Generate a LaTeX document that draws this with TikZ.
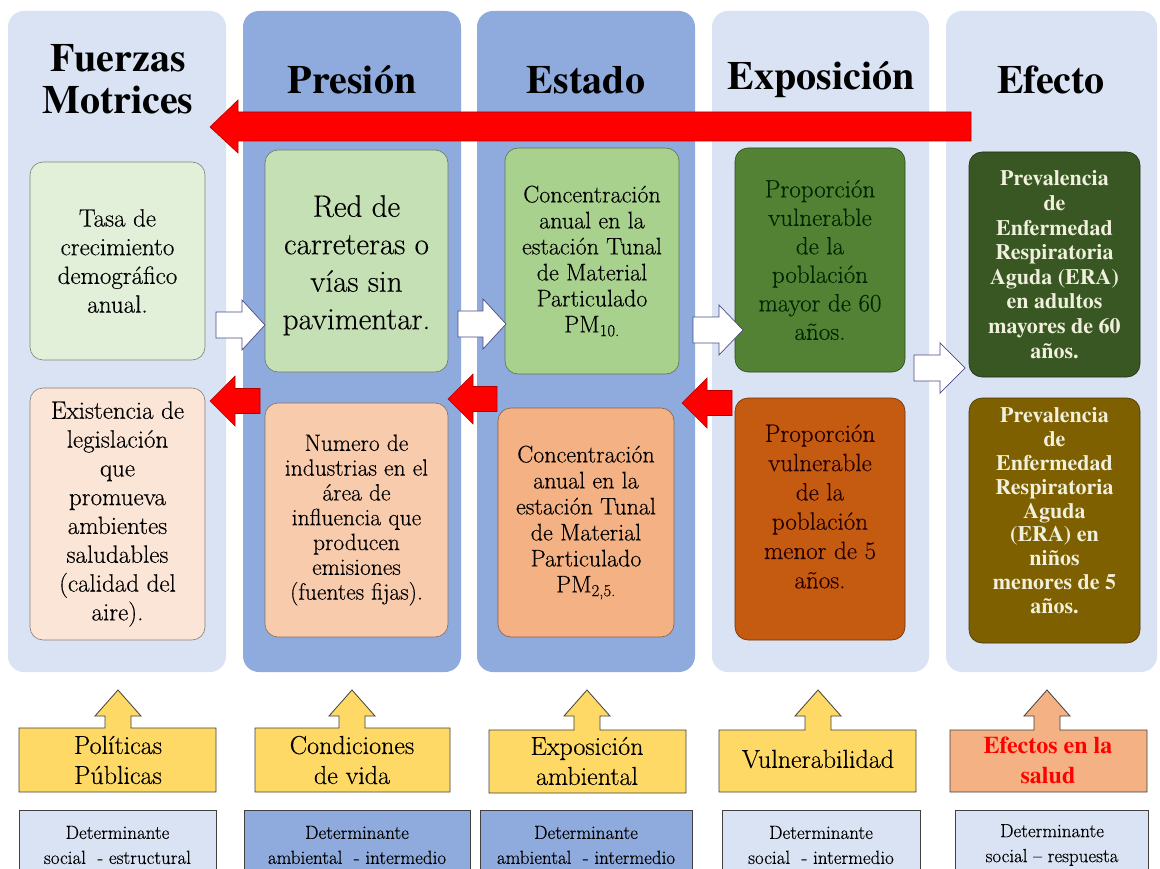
\documentclass[tikz,border=0pt]{standalone}
\usepackage{fontspec}
\setmainfont{Latin Modern Roman}[FakeBold=0.35]
\newfontfamily\tb{texgyretermes-bold.otf}
\definecolor{lightp}{HTML}{DAE3F3}
\definecolor{darkp}{HTML}{8FAADC}
\definecolor{gA}{HTML}{E2F0D9}
\definecolor{oA}{HTML}{FBE5D6}
\definecolor{gB}{HTML}{C5E0B4}
\definecolor{oB}{HTML}{F8CBAD}
\definecolor{gC}{HTML}{A9D18E}
\definecolor{oC}{HTML}{F4B183}
\definecolor{gD}{HTML}{548235}
\definecolor{oD}{HTML}{C55A11}
\definecolor{gE}{HTML}{385723}
\definecolor{oE}{HTML}{7F6000}
\definecolor{yel}{HTML}{FFD966}
\definecolor{sal}{HTML}{F4B183}
\definecolor{cream}{HTML}{F0F0DC}
\definecolor{redA}{HTML}{FF0000}
\newcommand\rightblk[5]{% tail x, tip x, center y, head base x, name
  \draw[warrow] (#1,{#3-13}) -- (#4,{#3-13}) -- (#4,{#3-25}) -- (#2,#3) -- (#4,{#3+25}) -- (#4,{#3+13}) -- (#1,{#3+13}) -- cycle;
  \coordinate (#5) at (#2,#3);}
\newcommand\leftblk[5]{% tail x, tip x, center y, head base x, name
  \draw[rarrow] (#1,{#3-12.5}) -- (#4,{#3-12.5}) -- (#4,{#3-25}) -- (#2,#3) -- (#4,{#3+25}) -- (#4,{#3+12.5}) -- (#1,{#3+12.5}) -- cycle;
  \coordinate (#5) at (#2,#3);}
\newcommand\calloutbox[6]{% x1,x2,y1,y2,cx,style
  \draw[#6] (#1,#3) -- ({#5-13},#3) -- ({#5-13},716) -- ({#5-23},716) -- (#5,690) -- ({#5+23},716) -- ({#5+13},716) -- ({#5+13},#3) -- (#2,#3) -- (#2,#4) -- (#1,#4) -- cycle;}
\begin{document}
\begin{tikzpicture}[x=1pt,y=-1pt,
  panel/.style={rounded corners=16pt, draw=none, inner sep=0pt},
  ibox/.style={rounded corners=13pt, fill=#1, draw=#1!55!black, line width=0.6pt, align=center, inner sep=0pt},
  title/.style={font=\tb\fontsize{40}{42}\selectfont, align=center},
  warrow/.style={fill=white, draw=black!45!blue!40!gray, line width=0.7pt, line join=miter},
  rarrow/.style={fill=redA, draw=redA!70!black, line width=0.6pt, line join=miter},
  call/.style={fill=#1, draw=black!75, line width=0.8pt},
  calltext/.style={font=\fontsize{26}{30}\selectfont, align=center},
  detbox/.style={fill=#1, draw=black!75, line width=0.8pt, align=center, font=\fontsize{19}{25}\selectfont, inner sep=0pt}
]
\useasboundingbox (0,0) rectangle (1160,869);
\fill[white] (0,0) rectangle (1160,869);

% panels
\node[panel, fill=lightp, minimum width=218pt, minimum height=661pt] (p1) at (117,341.5) {};
\node[panel, fill=darkp, minimum width=218pt, minimum height=661pt] (p2) at (352,341.5) {};
\node[panel, fill=darkp, minimum width=218pt, minimum height=661pt] (p3) at (586,341.5) {};
\node[panel, fill=lightp, minimum width=217pt, minimum height=661pt] (p4) at (820.5,341.5) {};
\node[panel, fill=lightp, minimum width=211pt, minimum height=661pt] (p5) at (1051.5,341.5) {};

% titles
\node[title] (t1) at (118,79) {Fuerzas\\Motrices};
\node[title] (t2) at (352,80) {Presión};
\node[title] (t3) at (586,80) {Estado};
\node[title] (t4) at (821,80) {Exposición};
\node[title] (t5) at (1051,80) {Efecto};

% big red arrow
\draw[rarrow] (971,112) -- (238,112) -- (238,100) -- (210,127) -- (238,153) -- (238,141) -- (971,141) -- cycle;
\coordinate (bigtip) at (210,127);

% column 1
\node[ibox=gA, minimum width=175pt, minimum height=198pt, font=\fontsize{25}{28.7}\selectfont] (a1) at (117.5,261) {Tasa de\\crecimiento\\demográfico\\anual.};
\node[ibox=oA, minimum width=175pt, minimum height=252pt, font=\fontsize{25}{28.8}\selectfont] (a2) at (117.5,514) {Existencia de\\legislación\\que\\promueva\\ambientes\\saludables\\(calidad del\\aire).};
% column 2
\node[ibox=gB, minimum width=183pt, minimum height=222pt, font=\fontsize{31}{37.5}\selectfont] (b1) at (356.5,261) {\rule{0pt}{30pt}Red de\\carreteras o\\vías sin\\pavimentar.};
\node[ibox=oB, minimum width=183pt, minimum height=234pt, font=\fontsize{23.5}{24.8}\selectfont] (b2) at (356.5,520) {Numero de\\industrias en el\\área de\\influencia que\\producen\\emisiones\\(fuentes fijas).};
% column 3
\node[ibox=gC, minimum width=174pt, minimum height=226pt, font=\fontsize{24}{26}\selectfont] (c1) at (592,261) {Concentración\\anual en la\\estación Tunal\\de Material\\Particulado\\PM\textsubscript{10.}};
\node[ibox=oC, minimum width=176pt, minimum height=229pt, font=\fontsize{24}{26}\selectfont] (c2) at (586,522.5) {Concentración\\anual en la\\estación Tunal\\de Material\\Particulado\\PM\textsubscript{2,5.}};
% column 4
\node[ibox=gD, minimum width=170pt, minimum height=224pt, font=\fontsize{25}{28.5}\selectfont, text=black!85!green] (d1) at (820,260) {Proporción\\vulnerable\\de la\\población\\mayor de 60\\años.};
\node[ibox=oD, minimum width=170pt, minimum height=242pt, font=\fontsize{25}{29.3}\selectfont, text=black!85!red] (d2) at (820,519) {Proporción\\vulnerable\\de la\\población\\menor de 5\\años.\\[-4pt]};
% column 5
\node[ibox=gE, minimum width=171pt, minimum height=225pt, font=\tb\fontsize{22}{24.6}\selectfont, text=cream] (e1) at (1054.5,264.5) {Prevalencia\\de\\Enfermedad\\Respiratoria\\Aguda (ERA)\\en adultos\\mayores de 60\\años.};
\node[ibox=oE, minimum width=171pt, minimum height=245pt, font=\tb\fontsize{22}{23.8}\selectfont, text=cream] (e2) at (1054.5,520.5) {Prevalencia\\de\\Enfermedad\\Respiratoria\\Aguda\\(ERA) en\\niños\\menores de 5\\años.\\[-4pt]};

% white arrows (right)
\rightblk{216}{265}{325}{242}{w1}
\rightblk{458}{506}{324}{483}{w2}
\rightblk{693}{743}{330}{719}{w3}
\rightblk{914}{965}{368}{940}{w4}
% red arrows (left)
\leftblk{260}{210}{401}{235}{r1}
\leftblk{497}{448}{399}{473}{r2}
\leftblk{732}{682}{403}{707}{r3}

% callouts
\calloutbox{19}{216}{728}{792}{118}{call=yel}
\node[calltext] (k1) at (118,760) {Políticas\\Públicas};
\calloutbox{255}{450}{728}{792}{352}{call=yel}
\node[calltext] (k2) at (352,760) {Condiciones\\de vida};
\calloutbox{489}{686}{730}{793}{587}{call=yel}
\node[calltext] (k3) at (587,761) {Exposición\\ambiental};
\calloutbox{719}{916}{730}{792}{818}{call=yel}
\node[calltext] (k4) at (818,759) {Vulnerabilidad};
\calloutbox{950}{1147}{730}{792}{1047}{call=sal}
\node[calltext, font=\tb\fontsize{24}{30}\selectfont, text=redA] (k5) at (1048,760) {Efectos en la\\salud};

% determinante boxes
\node[detbox=lightp, minimum width=197pt, minimum height=70pt] (q1) at (117.5,845) {Determinante\\social\ \ - estructural};
\node[detbox=darkp, minimum width=226pt, minimum height=70pt] (q2) at (357,845) {Determinante\\ambiental\ \ - intermedio};
\node[detbox=darkp, minimum width=212pt, minimum height=70pt] (q3) at (586,845) {Determinante\\ambiental\ \ - intermedio};
\node[detbox=lightp, minimum width=198pt, minimum height=70pt] (q4) at (821,845) {Determinante\\social\ \ - intermedio};
\node[detbox=lightp, minimum width=193pt, minimum height=70pt] (q5) at (1052,845) {Determinante\\social \textendash\ respuesta};
\end{tikzpicture}
\end{document}
